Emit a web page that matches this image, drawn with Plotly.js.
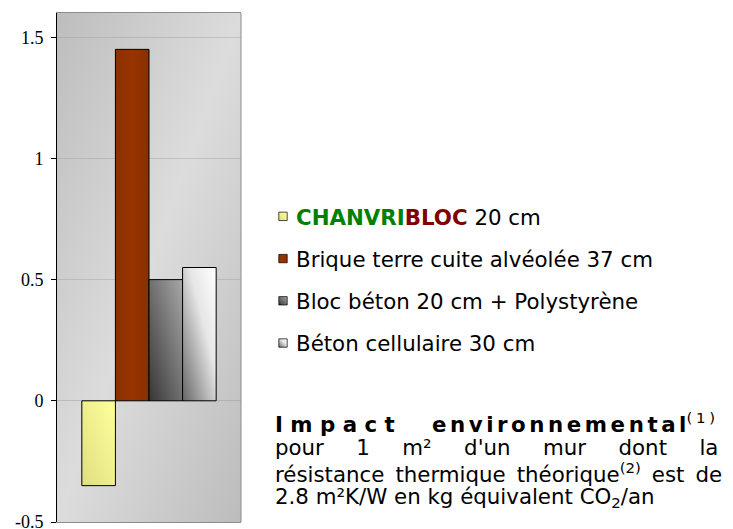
<!DOCTYPE html>
<html><head><meta charset="utf-8">
<script src="https://cdn.plot.ly/plotly-3.0.1.min.js"></script>
<style>html,body{margin:0;padding:0;background:#fff;} #chart{width:733px;height:529px;}</style>
</head><body>
<svg width="0" height="0" style="position:absolute">
<defs>
<linearGradient id="gBg" x1="0" y1="0" x2="1" y2="1">
<stop offset="0" stop-color="#bdbdbd"/><stop offset="0.5" stop-color="#dcdcdc"/><stop offset="1" stop-color="#bcbcbc"/>
</linearGradient>
<linearGradient id="gY" x1="0" y1="1" x2="1" y2="0">
<stop offset="0" stop-color="#dfdf82"/><stop offset="1" stop-color="#ffff9c"/>
</linearGradient>
<linearGradient id="gB" x1="0" y1="0" x2="1" y2="0">
<stop offset="0" stop-color="#8a3000"/><stop offset="0.5" stop-color="#983400"/><stop offset="1" stop-color="#883000"/>
</linearGradient>
<linearGradient id="gD" x1="0" y1="1" x2="1" y2="0">
<stop offset="0" stop-color="#363636"/><stop offset="1" stop-color="#a8a8a8"/>
</linearGradient>
<linearGradient id="gL" x1="0" y1="1" x2="1" y2="0">
<stop offset="0" stop-color="#666666"/><stop offset="0.6" stop-color="#e6e6e6"/><stop offset="1" stop-color="#ffffff"/>
</linearGradient>
</defs></svg>
<div id="chart"></div>
<script>
// ---- data ----
const categories = ['Impact'];
const seriesNames = [
  '<b><span style="color:#008000">CHANVRI</span><span style="color:#800000">BLOC</span></b> 20 cm',
  'Brique terre cuite alvéolée 37 cm',
  'Bloc béton 20 cm + Polystyrène',
  'Béton cellulaire 30 cm'
];
const chanvriblocValues = [-0.35];
const briqueValues = [1.45];
const blocBetonValues = [0.5];
const betonCellulaireValues = [0.55];
const yTickVals = [-0.5, 0, 0.5, 1, 1.5];
const yTickText = ['-0.5', '0', '0.5', '1', '1.5'];

const NB = '\u00a0', S4 = '\u2005', S6 = '\u2006', TH = '\u2009';
function spaced(word, sep) { return word.split('').join(sep); }
const noteLines = [
  '<b>' + spaced('Impact', NB) + NB.repeat(5) + spaced('environnemental', S6) + '</b><sup>(' + S4 + '1' + S4 + ')</sup>',
  ['pour', '1', 'm²', "d'un", 'mur', 'dont', 'la'].join(NB.repeat(4) + S4),
  ['résistance', 'thermique', 'théorique<sup>(2)</sup>', 'est', 'de'].join(NB + TH),
  '2.8 m²K/W en kg équivalent CO<sub>2</sub>/an'
];

// ---- styles ----
const fillColors = ['#f0f090', '#933300', '#6e6e6e', '#c8c8c8'];
const gradIds = ['gY', 'gB', 'gD', 'gL'];
const seriesValues = [chanvriblocValues, briqueValues, blocBetonValues, betonCellulaireValues];
const FONT = 'DejaVu Sans, Verdana, sans-serif';

const data = seriesValues.map((vals, i) => ({
  type: 'bar',
  x: categories,
  y: vals,
  name: seriesNames[i],
  legendgroup: 'g' + i,
  marker: { color: fillColors[i], line: { color: '#000', width: 1 } },
  hoverinfo: 'skip'
}));

const lineY = [0.1945, 0.1454, 0.0963, 0.0472];
const annotations = noteLines.map((t, i) => ({
  xref: 'paper', yref: 'paper', x: 1.1739, y: lineY[i],
  xanchor: 'left', yanchor: 'middle', align: 'left', showarrow: false,
  text: t, font: { family: FONT, size: 21.33, color: '#000' }
}));

const layout = {
  width: 733, height: 529,
  margin: { l: 57, r: 492, t: 13, b: 7, pad: 0 },
  paper_bgcolor: '#ffffff', plot_bgcolor: '#d4d4d4',
  barmode: 'group', bargap: 0.27, bargroupgap: 0,
  showlegend: true,
  xaxis: { type: 'category', showticklabels: false, ticks: '', showgrid: false,
    showline: true, linecolor: '#8c8c8c', linewidth: 1, mirror: true, zeroline: false },
  yaxis: { range: [-0.5, 1.6], tickmode: 'array', tickvals: yTickVals, ticktext: yTickText,
    ticks: 'outside', ticklen: 5, tickcolor: '#000', tickwidth: 1, ticklabeloverflow: 'allow',
    ticklabelstandoff: 4,
    showline: true, linecolor: '#000', linewidth: 1,
    showgrid: true, gridcolor: 'rgba(140,140,140,0.3)', gridwidth: 1,
    zeroline: true, zerolinecolor: 'rgba(140,140,140,0.35)', zerolinewidth: 1,
    tickfont: { family: 'Liberation Serif, Times New Roman, serif', size: 18, color: '#000' } },
  legend: { x: 1.0815, xanchor: 'left', y: 0.6405, yanchor: 'top',
    font: { family: FONT, size: 21.33, color: '#000' },
    bgcolor: 'rgba(0,0,0,0)', borderwidth: 0, tracegroupgap: 11.5, traceorder: 'grouped' },
  shapes: [{ type: 'line', xref: 'paper', yref: 'paper', x0: 1, x1: 1, y0: 0, y1: 1,
    line: { color: '#8c8c8c', width: 1 } }],
  annotations: annotations
};

Plotly.newPlot('chart', data, layout, { staticPlot: true, displayModeBar: false }).then(gd => {
  const bg = gd.querySelector('rect.bg');
  if (bg) bg.style.fill = 'url(#gBg)';
  gd.querySelectorAll('.barlayer .trace').forEach(tr => {
    const d = tr.__data__;
    const idx = d && d[0] && d[0].trace ? d[0].trace.index : null;
    if (idx === null) return;
    tr.querySelectorAll('path').forEach(p => { p.style.fill = 'url(#' + gradIds[idx] + ')'; });
  });
  gd.querySelectorAll('.legend .traces').forEach(tr => {
    const d = tr.__data__;
    const idx = d && d[0] && d[0].trace ? d[0].trace.index : null;
    if (idx === null) return;
    tr.querySelectorAll('.legendpoints path').forEach(p => {
      const t = p.getAttribute('transform') || '';
      p.setAttribute('transform', t + ' translate(7,0) scale(0.7)');
      p.style.fill = 'url(#' + gradIds[idx] + ')';
    });
  });
});
</script>
</body></html>
